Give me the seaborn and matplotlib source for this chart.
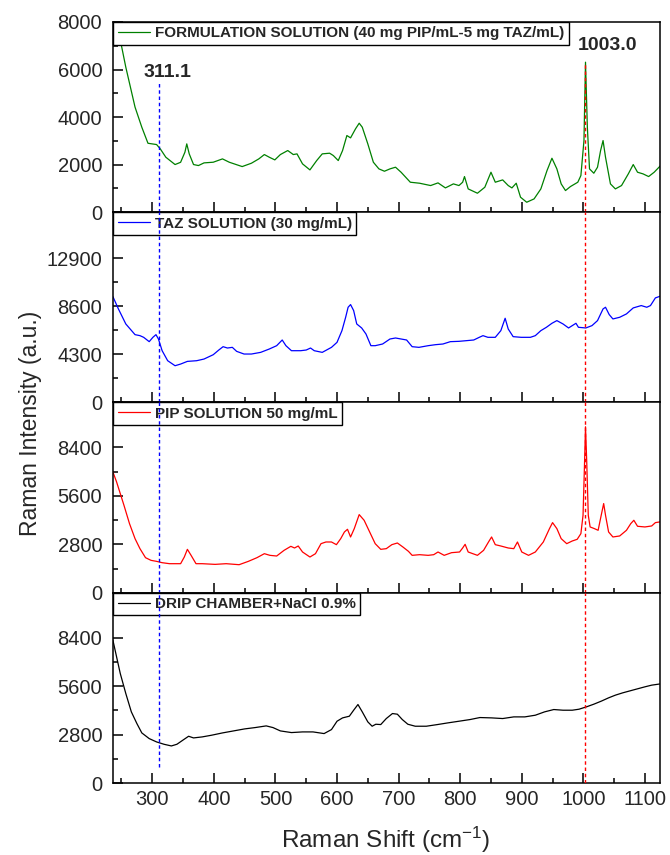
import matplotlib
matplotlib.use("Agg")
import matplotlib.pyplot as plt
import seaborn as sns
from matplotlib.ticker import MultipleLocator

# ---------------- data ----------------
form_x = [236, 248, 257, 272, 283, 293, 307, 313, 322, 337, 346, 353, 356, 360, 367, 375, 384, 399,
          414, 425, 446, 461, 473, 482, 490, 499, 508, 520, 529, 535, 544, 556, 567, 576, 588, 594,
          602, 609, 616, 622, 630, 636, 641, 650, 659, 668, 677, 686, 695, 704, 719, 734, 752, 764,
          776, 789, 798, 804, 807, 813, 828, 840, 850, 857, 869, 878, 884, 891, 898, 908, 920, 931,
          941, 949, 957, 964, 971, 979, 991, 996, 1001, 1003.5, 1006.5, 1010, 1017, 1023, 1028, 1032,
          1036, 1044, 1052, 1062, 1073, 1081, 1088, 1097, 1106, 1115, 1125]
form_y = [8700, 7250, 6100, 4420, 3575, 2900, 2846, 2664, 2313, 2005, 2100, 2524, 2874, 2454, 2005,
          1963, 2075, 2103, 2243, 2103, 1920, 2061, 2243, 2425, 2313, 2201, 2425, 2594, 2425, 2454,
          2033, 1780, 2173, 2454, 2482, 2383, 2173, 2594, 3225, 3127, 3505, 3743, 3575, 2874, 2103,
          1823, 1724, 1823, 1893, 1682, 1262, 1220, 1122, 1234, 1023, 1192, 1122, 1262, 1500, 981,
          799, 1051, 1682, 1262, 1360, 1122, 1023, 1220, 631, 420, 561, 981, 1752, 2271, 1823, 1192,
          911, 1079, 1262, 1542, 3014, 6309, 3575, 1823, 1640, 1893, 2594, 3014, 2313, 1192, 981,
          1122, 1612, 2005, 1682, 1612, 1500, 1682, 1950]

taz_x = [236, 245, 257, 272, 280, 286, 295, 301, 306, 310, 316, 325, 337, 346, 357, 372, 384, 399,
         408, 415, 422, 430, 437, 449, 461, 476, 490, 502, 511, 517, 526, 541, 550, 557, 563, 576,
         591, 600, 608, 614, 618, 622, 627, 632, 640, 647, 655, 662, 674, 686, 695, 704, 713, 722,
         733, 748, 760, 772, 784, 798, 810, 822, 831, 837, 845, 857, 866, 873, 878, 886, 899, 914,
         922, 931, 940, 949, 957, 967, 976, 982, 988, 992, 1004, 1014, 1023, 1032, 1036, 1042, 1048,
         1059, 1070, 1081, 1094, 1103, 1109, 1117, 1125]
taz_y = [9466, 8361, 7017, 6062, 5972, 5823, 5435, 5823, 6062, 5673, 4628, 3733, 3285, 3434, 3673,
         3733, 3882, 4270, 4688, 4987, 4867, 4927, 4569, 4330, 4330, 4479, 4778, 5076, 5584, 5076,
         4628, 4628, 4688, 4867, 4628, 4479, 4927, 5375, 6420, 7614, 8510, 8749, 8212, 7017, 6659,
         6121, 5076, 5076, 5226, 5673, 5763, 5673, 5584, 4987, 4927, 5076, 5166, 5226, 5435, 5465,
         5524, 5584, 5823, 5972, 5823, 5823, 6420, 7525, 6569, 5883, 5823, 5823, 5972, 6420, 6719,
         7077, 7316, 7017, 6659, 6868, 7077, 6719, 6659, 6868, 7316, 8361, 8510, 7853, 7465, 7614,
         7913, 8450, 8660, 8510, 8660, 9346, 9500]

pip_x = [236, 242, 248, 254, 263, 272, 280, 289, 298, 307, 316, 328, 346, 352, 357, 363, 371, 381,
         402, 420, 441, 456, 470, 482, 491, 502, 514, 525, 531, 537, 544, 556, 565, 574, 582, 591,
         599, 606, 612, 617, 622, 628, 636, 644, 653, 662, 671, 680, 689, 698, 707, 716, 722, 734,
         748, 757, 764, 774, 786, 799, 804, 808, 813, 828, 838, 846, 851, 857, 866, 878, 887, 893,
         900, 911, 922, 935, 945, 950, 957, 964, 973, 982, 990, 996, 999.5, 1002, 1003.5, 1005.5,
         1008, 1011, 1018, 1024, 1029, 1033, 1036, 1041, 1048, 1059, 1070, 1077, 1082, 1088, 1100,
         1111, 1117, 1125]
pip_y = [6990, 6411, 5735, 5059, 3997, 3128, 2549, 2028, 1873, 1815, 1738, 1680, 1680, 2066, 2510,
         2163, 1680, 1680, 1641, 1680, 1622, 1815, 2028, 2259, 2163, 2124, 2452, 2684, 2588, 2703,
         2356, 2066, 2259, 2838, 2935, 2935, 2780, 3128, 3514, 3669, 3225, 3707, 4518, 4190, 3514,
         2838, 2510, 2549, 2780, 2877, 2645, 2394, 2163, 2201, 2163, 2201, 2356, 2163, 2317, 2356,
         2588, 2800, 2356, 2163, 2452, 2935, 3225, 2780, 2703, 2588, 2549, 2935, 2356, 2163, 2356,
         2935, 3707, 4055, 3707, 3128, 2838, 2993, 3090, 3418, 4480, 7570, 9597, 7570, 4480, 3804,
         3707, 3611, 4480, 5156, 4480, 3514, 3225, 3283, 3611, 3997, 4190, 3843, 3804, 3862, 4055,
         4100]

drip_x = [236, 242, 248, 257, 266, 275, 283, 295, 307, 319, 331, 340, 351, 359, 367, 381, 396, 414,
          432, 450, 467, 485, 496, 508, 526, 544, 561, 579, 591, 600, 609, 620, 627, 634, 641, 650,
          657, 663, 671, 680, 690, 698, 706, 715, 727, 745, 763, 780, 798, 816, 832, 851, 869, 887,
          905, 922, 937, 952, 967, 982, 993, 1005, 1017, 1029, 1041, 1052, 1064, 1076, 1088, 1100,
          1111, 1125]
drip_y = [8265, 7299, 6334, 5175, 4113, 3437, 2896, 2568, 2375, 2240, 2143, 2240, 2510, 2703, 2607,
          2665, 2761, 2896, 3012, 3128, 3205, 3302, 3205, 3012, 2916, 2954, 2954, 2858, 3090, 3572,
          3765, 3862, 4209, 4538, 4113, 3534, 3283, 3398, 3379, 3727, 4016, 3978, 3669, 3398, 3283,
          3283, 3379, 3476, 3572, 3669, 3785, 3765, 3727, 3823, 3823, 3920, 4113, 4248, 4209, 4209,
          4267, 4403, 4557, 4731, 4924, 5079, 5214, 5330, 5446, 5561, 5658, 5730]

labels = ["FORMULATION SOLUTION (40 mg PIP/mL-5 mg TAZ/mL)", "TAZ SOLUTION (30 mg/mL)",
          "PIP SOLUTION 50 mg/mL", "DRIP CHAMBER+NaCl 0.9%"]
colors = ["#008000", "#0000ff", "#ff0000", "#000000"]
y_tops = [8000, 17000, 11000, 11000]
y_steps = [2000, 4300, 2800, 2800]

marker_blue = 311.1
marker_red = 1003.0
blue_top_panel1 = 5430
red_top_panel1 = 6240
blue_bottom_panel4 = 925
x_limits = (236.7, 1124.5)

# ---------------- style ----------------
sns.set_style("ticks")
plt.rcParams['font.family'] = ['Liberation Sans', 'DejaVu Sans']
plt.rcParams['mathtext.fontset'] = 'custom'
plt.rcParams['mathtext.rm'] = 'Liberation Sans'
plt.rcParams['mathtext.it'] = 'Liberation Sans:italic'
plt.rcParams['mathtext.bf'] = 'Liberation Sans:bold'

fig, axes = plt.subplots(4, 1, figsize=(6.7, 8.55), dpi=100, sharex=True)
fig.subplots_adjust(left=0.1691, right=0.9851, top=0.9743, bottom=0.0842, hspace=0)

series = [(form_x, form_y), (taz_x, taz_y), (pip_x, pip_y), (drip_x, drip_y)]

for i, ax in enumerate(axes):
    xs, ys = series[i]
    sns.lineplot(x=xs, y=ys, ax=ax, color=colors[i], linewidth=0.9, label=labels[i],
                 estimator=None, sort=False)
    ax.set_xlim(*x_limits)
    ax.set_ylim(0, y_tops[i])
    ax.yaxis.set_major_locator(MultipleLocator(y_steps[i]))
    ax.yaxis.set_minor_locator(MultipleLocator(y_steps[i] / 2))
    ax.xaxis.set_major_locator(MultipleLocator(100))
    ax.xaxis.set_minor_locator(MultipleLocator(50))
    ax.tick_params(axis='both', which='both', direction='in', top=False, right=False,
                   width=1.1, color='black')
    ax.tick_params(axis='both', which='major', length=7.2, labelsize=14.5)
    ax.tick_params(axis='both', which='minor', length=3.6)
    ax.tick_params(axis='y', which='major', pad=8)
    ax.tick_params(axis='x', which='major', pad=5)
    for sp in ax.spines.values():
        sp.set_linewidth(1.1)
        sp.set_color('black')
    ax.set_xlabel("")
    ax.set_ylabel("")
    leg = ax.legend(loc='upper left', borderaxespad=0.0, borderpad=0.28, handlelength=2.1,
                    handletextpad=0.35, fancybox=False, framealpha=1.0, edgecolor='black',
                    prop={'weight': 'bold', 'size': 11, 'family': ['Liberation Sans']})
    leg.get_frame().set_linewidth(1.0)

    # vertical marker lines
    if i == 0:
        b0, b1 = 0, blue_top_panel1
        r0, r1 = 0, red_top_panel1
    elif i == 3:
        b0, b1 = blue_bottom_panel4, y_tops[i]
        r0, r1 = 0, y_tops[i]
    else:
        b0, b1 = 0, y_tops[i]
        r0, r1 = 0, y_tops[i]
    ax.vlines(marker_blue, b0, b1, colors='#0000ff', linestyles=(0, (2.5, 2)), linewidth=1.0, zorder=6)
    ax.vlines(marker_red, r0, r1, colors='#ff0000', linestyles=(0, (2.5, 2)), linewidth=1.0, zorder=6)

axes[0].text(325, 5700, "311.1", ha='center', va='baseline', fontsize=14, fontweight='bold')
axes[0].text(1040, 6820, "1003.0", ha='center', va='baseline', fontsize=14, fontweight='bold')

fig.text(0.045, 0.5053, "Raman Intensity (a.u.)", rotation=90,
         ha='center', va='center', fontsize=16.5)
fig.text(0.576, 0.0085, "Raman Shift (cm$^{-1}$)", ha='center', va='baseline',
         fontsize=17.5)

fig.savefig("out.png", dpi=100)
